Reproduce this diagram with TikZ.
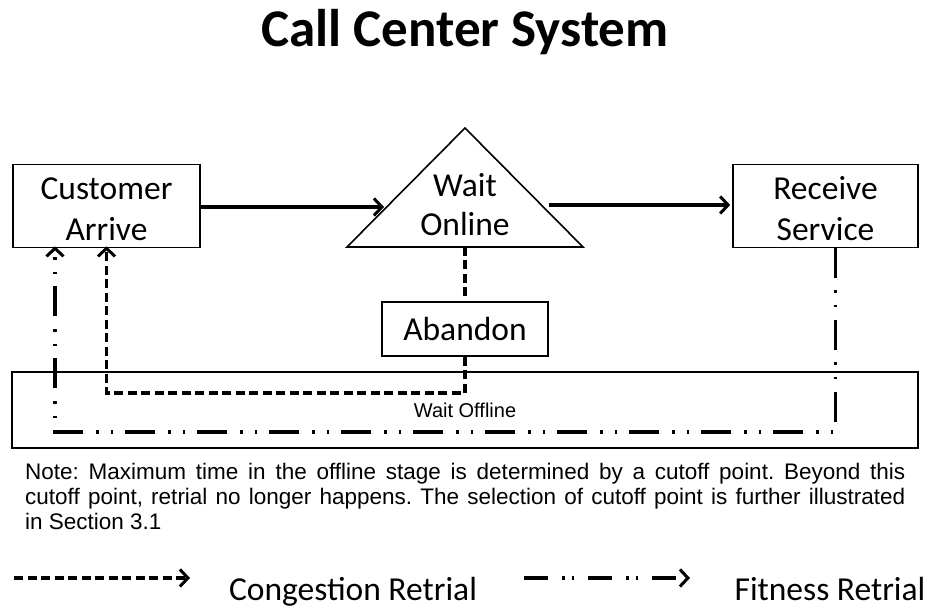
\documentclass[tikz,border=0pt]{standalone}
\usepackage{fontspec}
\setmainfont{Carlito}
\newfontfamily\notefont{Liberation Sans}
\usetikzlibrary{arrows.meta}
\frenchspacing

\tikzset{
  box/.style={draw, line width=1.6pt, minimum width=#1, inner sep=0pt, align=center,
              font=\fontsize{33.5}{41}\selectfont},
  barb/.style={-{Straight Barb[length=8pt,width=17pt,line width=3pt]}},
  flow/.style={line width=3.4pt, barb},
  congestion/.style={line width=3.2pt, dash pattern=on 9pt off 4.5pt},
  fitness/.style={line width=3.2pt, dash pattern=on 30pt off 12pt on 2.5pt off 12pt on 2.5pt off 13pt},
  fitnesskey/.style={line width=3.2pt, dash pattern=on 24pt off 14pt on 2.5pt off 7pt on 2.5pt off 14pt},
  keytext/.style={font=\fontsize{33.5}{36}\selectfont, anchor=base},
}
\newcommand{\topstrut}{\rule{0pt}{28pt}}

\begin{document}
\begin{tikzpicture}[x=1pt,y=-1pt]
\useasboundingbox (0,0) rectangle (930,609);

% title
\node[anchor=base, font=\fontsize{53}{60}\selectfont\bfseries] (title) at (465,47) {Call Center System};

% main stages
\node[box=187pt, minimum height=83pt] (cust) at (106.5,206) {\topstrut Customer\\Arrive};
\node[box=185pt, minimum height=83pt] (rec) at (825.5,206) {\topstrut Receive\\Service};
\node[box=166pt, minimum height=54pt] (aband) at (465,329) {Abandon};
\node[draw, line width=1.6pt, minimum width=906pt, minimum height=76pt, inner sep=0pt] (offline) at (465,410) {};
\node[anchor=base, font=\notefont\fontsize{20}{22}\selectfont] (offlabel) at (465,418) {Wait Offline};

% queue triangle
\draw[line width=1.6pt, line join=miter] (465,128) -- (583,247) -- (347,247) -- cycle;
\node[align=center, font=\fontsize{33.5}{39}\selectfont] (wait) at (465,205) {Wait\\Online};
\coordinate (waitL) at (384,207);
\coordinate (waitR) at (549,205);
\coordinate (waitB) at (465,247);

% forward flow
\draw[flow] (cust.east |- waitL) -- (waitL);
\draw[flow] (waitR) -- ([xshift=-2pt]rec.west |- waitR);

% congestion retrial path
\coordinate (cturn) at (465,393);
\draw[congestion] (waitB) -- (aband.north);
\draw[congestion, barb] (aband.south) -- (cturn) -| ([yshift=2pt]cust.south);

% fitness retrial path
\coordinate (fturn) at ([xshift=10pt]rec.south |- 0,432);
\draw[fitness, barb] ([xshift=10pt]rec.south) -- (fturn) -| ([xshift=-51.5pt,yshift=2pt]cust.south);

% note
\node[anchor=north west, inner sep=0pt, align=left,
      font=\notefont\fontsize{22.5}{25}\selectfont] (note) at (25,463)
  {\makebox[880pt][s]{Note: Maximum time in the offline stage is determined by a cutoff point. Beyond this}\\
   \makebox[880pt][s]{cutoff point, retrial no longer happens. The selection of cutoff point is further illustrated}\\
   in Section 3.1};

% legend
\coordinate (l1a) at (14,578);
\coordinate (l1b) at (190,578);
\coordinate (l2a) at (524,578);
\coordinate (l2b) at (690,578);
\draw[congestion, barb] (l1a) -- (l1b);
\draw[fitnesskey, barb] (l2a) -- (l2b);
\node[keytext] (leg1) at (353,601) {Congestion Retrial};
\node[keytext] (leg2) at (830,601) {Fitness Retrial};
\end{tikzpicture}
\end{document}
